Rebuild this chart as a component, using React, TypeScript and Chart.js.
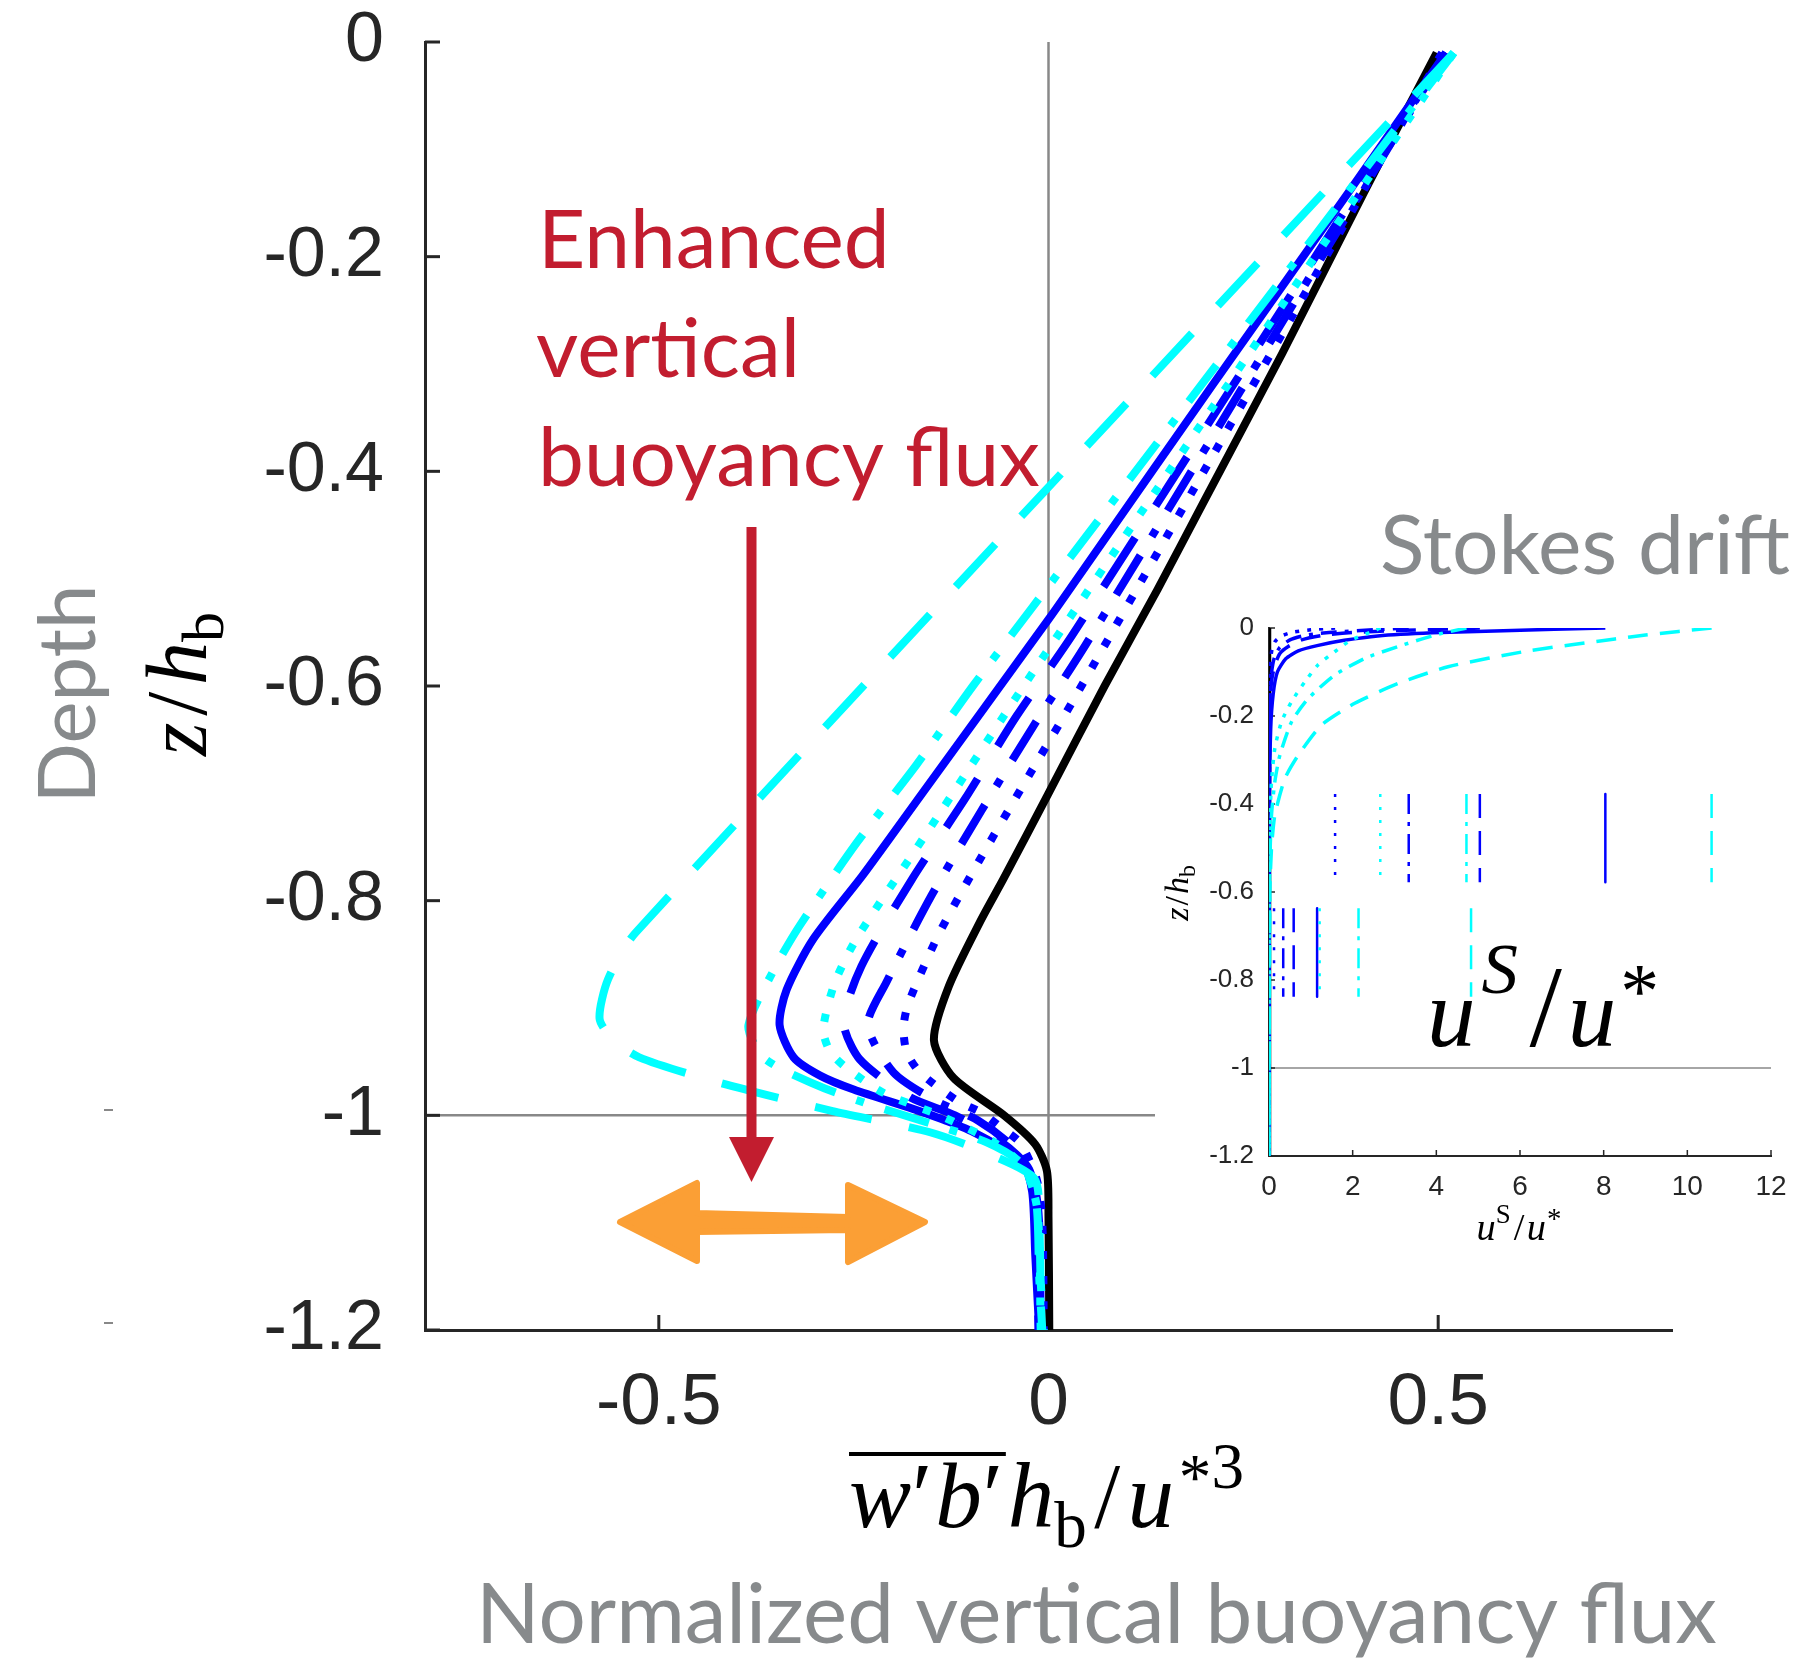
import { useEffect, useRef } from 'react';
import { Chart, registerables } from 'chart.js';

Chart.register(...registerables);

// ---------------- Main panel: normalized vertical buoyancy flux ----------------
const mainXTicks = [-0.5, 0, 0.5];
const mainYTicks = [0, -0.2, -0.4, -0.6, -0.8, -1, -1.2];

const blackDepth = [-0.01, -0.14, -0.29, -0.43, -0.51, -0.6, -0.7, -0.78, -0.82, -0.88, -0.93, -0.965, -1.0, -1.027, -1.052, -1.096, -1.2];
const blackFlux = [0.498, 0.405, 0.3, 0.198, 0.14, 0.072, 0.0, -0.058, -0.088, -0.128, -0.147, -0.122, -0.057, -0.017, -0.002, 0.0, 0.001];

const blueSolidDepth = [-0.01, -0.14, -0.32, -0.483, -0.538, -0.7, -0.776, -0.836, -0.883, -0.916, -0.946, -0.963, -0.976, -0.994, -1.003, -1.015, -1.043, -1.071, -1.13, -1.2];
const blueSolidFlux = [0.51, 0.385, 0.21, 0.053, 0.0, -0.162, -0.238, -0.302, -0.336, -0.345, -0.327, -0.293, -0.25, -0.174, -0.139, -0.098, -0.034, -0.021, -0.017, -0.012];

const blueDashedDepth = [-0.01, -0.551, -0.628, -0.705, -0.781, -0.861, -0.913, -0.948, -0.983, -1.0, -1.025, -1.05, -1.09, -1.2];
const blueDashedFlux = [0.51, 0.032, -0.041, -0.107, -0.176, -0.24, -0.263, -0.242, -0.178, -0.12, -0.06, -0.025, -0.015, -0.013];

const blueDashDotDepth = [-0.01, -0.56, -0.638, -0.716, -0.795, -0.876, -0.916, -0.96, -0.986, -1.005, -1.03, -1.06, -1.1, -1.2];
const blueDashDotFlux = [0.51, 0.049, -0.02, -0.086, -0.15, -0.208, -0.232, -0.199, -0.146, -0.09, -0.045, -0.02, -0.012, -0.01];

const blueDottedDepth = [-0.01, -0.613, -0.693, -0.773, -0.833, -0.896, -0.918, -0.941, -0.96, -0.986, -0.998, -1.012, -1.026, -1.06, -1.1, -1.2];
const blueDottedFlux = [0.505, 0.032, -0.033, -0.097, -0.142, -0.18, -0.186, -0.182, -0.165, -0.118, -0.085, -0.06, -0.036, -0.015, -0.008, -0.006];

const cyanDottedDepth = [-0.01, -0.585, -0.74, -0.835, -0.876, -0.92, -0.941, -0.956, -0.979, -1.0, -1.025, -1.05, -1.09, -1.2];
const cyanDottedFlux = [0.52, -0.018, -0.159, -0.246, -0.274, -0.289, -0.28, -0.259, -0.212, -0.14, -0.07, -0.03, -0.014, -0.01];

const cyanDashDotDepth = [-0.01, -0.526, -0.6, -0.673, -0.746, -0.823, -0.86, -0.916, -0.943, -0.956, -0.975, -0.99, -1.008, -1.025, -1.045, -1.08, -1.15, -1.2];
const cyanDashDotFlux = [0.52, -0.02, -0.097, -0.169, -0.246, -0.319, -0.349, -0.385, -0.37, -0.345, -0.287, -0.229, -0.15, -0.08, -0.035, -0.016, -0.012, -0.008];

const cyanDashedDepth = [-0.01, -0.83, -0.873, -0.91, -0.93, -0.946, -0.966, -0.985, -0.996, -1.016, -1.035, -1.059, -1.1, -1.155, -1.2];
const cyanDashedFlux = [0.52, -0.53, -0.565, -0.576, -0.558, -0.525, -0.44, -0.34, -0.277, -0.151, -0.08, -0.018, -0.012, -0.01, -0.006];

// ---------------- Inset: Stokes drift profiles ----------------
const insetXTicks = [0, 2, 4, 6, 8, 10, 12];
const insetYTicks = [0, -0.2, -0.4, -0.6, -0.8, -1, -1.2];

const stokesBlackDepth = [0, -1.2];
const stokesBlackU = [0, 0];

const stokesBlueDottedDepth = [0, -0.004, -0.01, -0.018, -0.03, -0.05, -0.09, -0.15, -1.2];
const stokesBlueDottedU = [1.58, 1.0, 0.55, 0.3, 0.15, 0.07, 0.02, 0.005, 0];

const stokesCyanDottedDepth = [0, -0.005, -0.027, -0.054, -0.084, -0.122, -0.167, -0.213, -0.273, -0.349, -0.45, -0.6, -1.2];
const stokesCyanDottedU = [2.66, 2.55, 1.97, 1.57, 1.17, 0.86, 0.54, 0.3, 0.14, 0.06, 0.02, 0.005, 0];

const stokesBlueDashDotDepth = [0, -0.004, -0.009, -0.016, -0.027, -0.045, -0.07, -0.11, -0.2, -1.2];
const stokesBlueDashDotU = [3.34, 2.5, 1.6, 0.9, 0.5, 0.25, 0.12, 0.05, 0.01, 0];

const stokesCyanDashDotDepth = [0, -0.016, -0.042, -0.069, -0.107, -0.16, -0.213, -0.289, -0.349, -0.425, -0.55, -1.2];
const stokesCyanDashDotU = [4.72, 3.97, 3.09, 2.29, 1.57, 0.94, 0.54, 0.26, 0.14, 0.06, 0.015, 0];

const stokesBlueDashedDepth = [0, -0.002, -0.005, -0.01, -0.017, -0.027, -0.042, -0.058, -0.084, -0.122, -0.2, -1.2];
const stokesBlueDashedU = [5.04, 4.44, 3.25, 2.05, 1.26, 0.78, 0.46, 0.26, 0.14, 0.06, 0.015, 0];

const stokesBlueSolidDepth = [0, -0.006, -0.011, -0.018, -0.028, -0.04, -0.052, -0.07, -0.1, -0.15, -0.23, -0.4, -1.2];
const stokesBlueSolidU = [8.04, 5.6, 3.9, 2.6, 1.8, 1.15, 0.7, 0.4, 0.2, 0.1, 0.04, 0.01, 0];

const stokesCyanDashedDepth = [0, -0.016, -0.025, -0.052, -0.088, -0.126, -0.171, -0.22, -0.289, -0.342, -0.425, -0.5, -0.6, -1.2];
const stokesCyanDashedU = [10.58, 9.0, 8.27, 6.2, 4.28, 3.09, 2.05, 1.26, 0.7, 0.38, 0.14, 0.06, 0.02, 0];

// vertical marker segments (order: blue dotted, cyan dotted, blue dash-dot, cyan dash-dot, blue dashed, blue solid, cyan dashed)
const markerUpperU = [1.58, 2.66, 3.34, 4.72, 5.04, 8.04, 10.58];
const markerLowerU = [0.12, 1.21, 0.34, 2.14, 0.59, 1.15, 4.83];
const markerUpperDepth = [-0.377, -0.578];
const markerLowerDepth = [-0.637, -0.838];

// ---------------- styles ----------------
const BLUE = '#0000ff';
const CYAN = '#00ffff';
const BLACK = '#000000';
const AXIS = '#262626';
const GRAYLINE = '#888888';
const GRAYTEXT = '#878a8c';
const RED = '#c21d2f';
const ORANGE = '#fb9f35';

const SANS = '"Liberation Sans", Arial, sans-serif';
const AVENIR = 'Lato, "Noto Sans", sans-serif';
const MATH = '"Liberation Serif", "Times New Roman", serif';

const MAIN_DASH = { solid: [] as number[], dashed: [58, 38], dashdot: [46, 22, 8, 22], dotted: [8, 17] };
const INSET_DASH = { solid: [] as number[], dashed: [20, 12], dashdot: [16, 8, 4, 8], dotted: [4, 8] };
const MARK_DASH = { solid: [] as number[], dashed: [24, 13], dashdot: [20, 8, 4, 8], dotted: [3, 10] };
const markerStyles: Array<[string, keyof typeof MAIN_DASH]> = [
  [BLUE, 'dotted'], [CYAN, 'dotted'], [BLUE, 'dashdot'], [CYAN, 'dashdot'], [BLUE, 'dashed'], [BLUE, 'solid'], [CYAN, 'dashed'],
];

type Run = { t: string; it?: boolean; sc?: number; dy?: number; dx?: number };

function runsWidth(ctx: CanvasRenderingContext2D, runs: Run[], size: number) {
  let w = 0;
  for (const r of runs) {
    ctx.font = `${r.it ? 'italic ' : ''}${size * (r.sc ?? 1)}px ${MATH}`;
    w += (r.dx ?? 0) * size + ctx.measureText(r.t).width;
  }
  return w;
}

function drawRuns(ctx: CanvasRenderingContext2D, runs: Run[], x: number, y: number, size: number) {
  const xs: number[] = [];
  let cx = x;
  ctx.textAlign = 'left';
  ctx.textBaseline = 'alphabetic';
  for (const r of runs) {
    ctx.font = `${r.it ? 'italic ' : ''}${size * (r.sc ?? 1)}px ${MATH}`;
    cx += (r.dx ?? 0) * size;
    xs.push(cx);
    ctx.fillText(r.t, cx, y + (r.dy ?? 0) * size);
    cx += ctx.measureText(r.t).width;
  }
  xs.push(cx);
  return xs;
}

function fitSize(ctx: CanvasRenderingContext2D, text: string, family: string, target: number) {
  ctx.font = `100px ${family}`;
  return (100 * target) / ctx.measureText(text).width;
}

function line(ctx: CanvasRenderingContext2D, x1: number, y1: number, x2: number, y2: number) {
  ctx.beginPath();
  ctx.moveTo(x1, y1);
  ctx.lineTo(x2, y2);
  ctx.stroke();
}

function series(z: number[], x: number[], color: string, dash: number[], width: number, tension: number) {
  return {
    data: z.map((zz, i) => ({ x: x[i], y: zz })),
    showLine: true,
    borderColor: color,
    backgroundColor: color,
    borderWidth: width,
    borderDash: dash,
    borderCapStyle: 'butt' as const,
    borderJoinStyle: 'round' as const,
    pointRadius: 0,
    pointHoverRadius: 0,
    tension,
    fill: false,
  };
}

const noPadX = (h: number) => (s: any) => {
  s.height = h;
  s.paddingLeft = 0;
  s.paddingRight = 0;
};
const noPadY = (w: number) => (s: any) => {
  s.width = w;
  s.paddingTop = 0;
  s.paddingBottom = 0;
};

const mainDecor = {
  id: 'mainDecor',
  beforeDatasetsDraw(chart: any) {
    const { ctx, chartArea: a, scales } = chart;
    const sx = scales.x;
    const sy = scales.y;
    ctx.save();
    ctx.strokeStyle = GRAYLINE;
    ctx.lineWidth = 2.5;
    const x0 = sx.getPixelForValue(0);
    line(ctx, x0, a.top, x0, a.bottom);
    const ym1 = sy.getPixelForValue(-1);
    line(ctx, a.left, ym1, a.right, ym1);
    ctx.strokeStyle = AXIS;
    ctx.lineWidth = 3;
    mainYTicks.forEach((v) => {
      const py = sy.getPixelForValue(v);
      line(ctx, a.left, py, a.left + 15, py);
    });
    mainXTicks.forEach((v) => {
      const px = sx.getPixelForValue(v);
      line(ctx, px, a.bottom, px, a.bottom - 15);
    });
    ctx.restore();
  },
  afterDraw(chart: any) {
    const { ctx } = chart;
    ctx.save();
    // red annotation text
    ctx.fillStyle = RED;
    ctx.textAlign = 'left';
    ctx.textBaseline = 'alphabetic';
    const rs = fitSize(ctx, 'buoyancy flux', AVENIR, 502);
    ctx.font = `${rs}px ${AVENIR}`;
    ctx.fillText('Enhanced', 538, 268);
    ctx.fillText('vertical', 536, 377);
    ctx.fillText('buoyancy flux', 538, 486);
    // red arrow
    ctx.strokeStyle = RED;
    ctx.lineWidth = 10;
    line(ctx, 751.5, 527, 751.5, 1145);
    ctx.beginPath();
    ctx.moveTo(729, 1137);
    ctx.lineTo(774, 1137);
    ctx.lineTo(751.5, 1182);
    ctx.closePath();
    ctx.fill();
    // orange double arrow
    ctx.fillStyle = ORANGE;
    ctx.strokeStyle = ORANGE;
    ctx.lineWidth = 6;
    ctx.lineJoin = 'round';
    ctx.beginPath();
    ctx.moveTo(620, 1222);
    ctx.lineTo(697, 1183);
    ctx.lineTo(697, 1213);
    ctx.lineTo(848, 1217);
    ctx.lineTo(848, 1185);
    ctx.lineTo(925, 1222);
    ctx.lineTo(848, 1262);
    ctx.lineTo(848, 1230);
    ctx.lineTo(697, 1232);
    ctx.lineTo(697, 1261);
    ctx.closePath();
    ctx.fill();
    ctx.stroke();
    // gray labels
    ctx.fillStyle = GRAYTEXT;
    const ss = fitSize(ctx, 'Stokes drift', AVENIR, 410);
    ctx.font = `${ss}px ${AVENIR}`;
    ctx.fillText('Stokes drift', 1380, 574);
    const ns = fitSize(ctx, 'Normalized vertical buoyancy flux', AVENIR, 1241);
    ctx.font = `${ns}px ${AVENIR}`;
    ctx.fillText('Normalized vertical buoyancy flux', 476, 1643);
    ctx.save();
    ctx.translate(95, 694);
    ctx.rotate(-Math.PI / 2);
    const ds = fitSize(ctx, 'Depth', AVENIR, 219);
    ctx.font = `${ds}px ${AVENIR}`;
    ctx.textAlign = 'center';
    ctx.fillText('Depth', 0, 0);
    ctx.restore();
    // small gray marks at far left
    ctx.strokeStyle = GRAYLINE;
    ctx.lineWidth = 2;
    line(ctx, 104, 1110, 113, 1110);
    line(ctx, 104, 1323, 113, 1323);
    // y-axis math label z/h_b
    ctx.fillStyle = '#000';
    const yRuns: Run[] = [
      { t: 'z', it: true },
      { t: '/', dx: 0.08 },
      { t: 'h', it: true, dx: 0.08 },
      { t: 'b', sc: 0.7, dy: 0.2 },
    ];
    ctx.save();
    ctx.translate(206, 684);
    ctx.rotate(-Math.PI / 2);
    const yw = runsWidth(ctx, yRuns, 86);
    drawRuns(ctx, yRuns, -yw / 2, 0, 86);
    ctx.restore();
    // x-axis math label
    const xRuns: Run[] = [
      { t: 'w', it: true },
      { t: '′', dx: 0.01 },
      { t: 'b', it: true, dx: 0.03 },
      { t: '′', dx: 0.01 },
      { t: 'h', it: true, dx: 0.05 },
      { t: 'b', sc: 0.7, dy: 0.22 },
      { t: '/', dx: 0.08 },
      { t: 'u', it: true, dx: 0.08 },
      { t: '*', sc: 0.7, dy: -0.3, dx: 0.05 },
      { t: '3', sc: 0.7, dy: -0.42 },
    ];
    const xw = runsWidth(ctx, xRuns, 84);
    const xsize = 84 * (395 / xw);
    const xs = drawRuns(ctx, xRuns, 849, 1527, xsize);
    ctx.strokeStyle = '#000';
    ctx.lineWidth = 4;
    line(ctx, xs[0], 1454, xs[4] - 0.02 * xsize, 1454);
    ctx.restore();
  },
};

const insetDecor = {
  id: 'insetDecor',
  beforeDatasetsDraw(chart: any) {
    const { ctx, chartArea: a, scales } = chart;
    const sx = scales.x;
    const sy = scales.y;
    ctx.save();
    ctx.strokeStyle = GRAYLINE;
    ctx.lineWidth = 1.5;
    const ym1 = sy.getPixelForValue(-1);
    line(ctx, sx.getPixelForValue(0), ym1, sx.getPixelForValue(12), ym1);
    ctx.strokeStyle = AXIS;
    ctx.lineWidth = 1.5;
    insetYTicks.forEach((v) => {
      const py = sy.getPixelForValue(v);
      line(ctx, a.left, py, a.left + 6, py);
    });
    insetXTicks.forEach((v) => {
      const px = sx.getPixelForValue(v);
      line(ctx, px, a.bottom, px, a.bottom - 6);
    });
    ctx.restore();
  },
  afterDraw(chart: any) {
    const { ctx } = chart;
    ctx.save();
    ctx.fillStyle = '#000';
    // big u^S/u*
    const bigRuns: Run[] = [
      { t: 'u', it: true },
      { t: 'S', it: true, sc: 0.75, dy: -0.55, dx: 0.06 },
      { t: '/', dx: 0.12, sc: 1.2 },
      { t: 'u', it: true, dx: 0.06 },
      { t: '*', sc: 0.8, dy: -0.3, dx: 0.04 },
    ];
    const bw = runsWidth(ctx, bigRuns, 88);
    drawRuns(ctx, bigRuns, 272, 432, 88 * (232 / bw));
    // small x label
    const sRuns: Run[] = [
      { t: 'u', it: true },
      { t: 'S', sc: 0.7, dy: -0.45 },
      { t: '/', dx: 0.08 },
      { t: 'u', it: true, dx: 0.06 },
      { t: '*', sc: 0.75, dy: -0.3, dx: 0.03 },
    ];
    const sw = runsWidth(ctx, sRuns, 34);
    const ssz = 34 * (85 / sw);
    drawRuns(ctx, sRuns, 364 - 85 / 2, 626, ssz);
    // small y label
    const yRuns: Run[] = [
      { t: 'z', it: true },
      { t: '/', dx: 0.06 },
      { t: 'h', it: true, dx: 0.06 },
      { t: 'b', sc: 0.7, dy: 0.2 },
    ];
    ctx.save();
    ctx.translate(33, 279);
    ctx.rotate(-Math.PI / 2);
    const yw = runsWidth(ctx, yRuns, 34);
    drawRuns(ctx, yRuns, -yw / 2, 0, 34);
    ctx.restore();
    ctx.restore();
  },
};

export default function App() {
  const mainRef = useRef<HTMLCanvasElement>(null);
  const insetRef = useRef<HTMLCanvasElement>(null);

  useEffect(() => {
    if (!mainRef.current || !insetRef.current) return;
    Chart.defaults.font.family = SANS;

    const W = 8;
    const T = 0.25;
    const mainDatasets = [
      series(cyanDashedDepth, cyanDashedFlux, CYAN, MAIN_DASH.dashed, W, T),
      series(cyanDashDotDepth, cyanDashDotFlux, CYAN, MAIN_DASH.dashdot, W, T),
      series(cyanDottedDepth, cyanDottedFlux, CYAN, MAIN_DASH.dotted, W, T),
      series(blueDottedDepth, blueDottedFlux, BLUE, MAIN_DASH.dotted, W, T),
      series(blueDashDotDepth, blueDashDotFlux, BLUE, MAIN_DASH.dashdot, W, T),
      series(blueDashedDepth, blueDashedFlux, BLUE, MAIN_DASH.dashed, W, T),
      series(blueSolidDepth, blueSolidFlux, BLUE, MAIN_DASH.solid, W, T),
      series(blackDepth, blackFlux, BLACK, MAIN_DASH.solid, W, T),
    ];

    const main = new Chart(mainRef.current, {
      type: 'scatter',
      data: { datasets: mainDatasets as any },
      options: {
        responsive: false,
        animation: false,
        devicePixelRatio: 1,
        events: [],
        layout: { padding: { left: 0, top: 42, right: 127, bottom: 0 } },
        plugins: { legend: { display: false }, tooltip: { enabled: false } },
        scales: {
          x: {
            type: 'linear',
            min: -0.8,
            max: 0.8,
            grid: { display: false, drawTicks: false },
            border: { display: true, color: AXIS, width: 3 },
            ticks: {
              autoSkip: false,
              maxRotation: 0,
              padding: 30,
              color: AXIS,
              font: { family: SANS, size: 73 },
              callback: (v: any) => String(v),
            },
            afterBuildTicks: (s: any) => {
              s.ticks = mainXTicks.map((v) => ({ value: v }));
            },
            afterFit: noPadX(331),
          },
          y: {
            type: 'linear',
            min: -1.2,
            max: 0,
            grid: { display: false, drawTicks: false },
            border: { display: true, color: AXIS, width: 3 },
            ticks: {
              autoSkip: false,
              padding: 41,
              color: AXIS,
              font: { family: SANS, size: 70 },
              callback: (v: any) => String(v),
            },
            afterBuildTicks: (s: any) => {
              s.ticks = mainYTicks.map((v) => ({ value: v }));
            },
            afterFit: noPadY(425),
          },
        },
      },
      plugins: [mainDecor],
    });

    const IW = 3.5;
    const insetDatasets: any[] = [
      series(stokesCyanDashedDepth, stokesCyanDashedU, CYAN, INSET_DASH.dashed, IW, 0.2),
      series(stokesCyanDashDotDepth, stokesCyanDashDotU, CYAN, INSET_DASH.dashdot, IW, 0.2),
      series(stokesCyanDottedDepth, stokesCyanDottedU, CYAN, INSET_DASH.dotted, IW, 0.2),
      series(stokesBlueDottedDepth, stokesBlueDottedU, BLUE, INSET_DASH.dotted, IW, 0.2),
      series(stokesBlueDashDotDepth, stokesBlueDashDotU, BLUE, INSET_DASH.dashdot, IW, 0.2),
      series(stokesBlueDashedDepth, stokesBlueDashedU, BLUE, INSET_DASH.dashed, IW, 0.2),
      series(stokesBlueSolidDepth, stokesBlueSolidU, BLUE, INSET_DASH.solid, IW, 0.2),
      series(stokesBlackDepth, stokesBlackU, BLACK, INSET_DASH.solid, IW + 1, 0),
    ];
    markerUpperU.forEach((u, i) => {
      const [c, d] = markerStyles[i];
      insetDatasets.push(series(markerUpperDepth, [u, u], c, MARK_DASH[d], 2.5, 0));
    });
    markerLowerU.forEach((u, i) => {
      const [c, d] = markerStyles[i];
      insetDatasets.push(series(markerLowerDepth, [u, u], c, MARK_DASH[d], 2.5, 0));
    });

    const inset = new Chart(insetRef.current, {
      type: 'scatter',
      data: { datasets: insetDatasets },
      options: {
        responsive: false,
        animation: false,
        devicePixelRatio: 1,
        events: [],
        layout: { padding: { left: 0, top: 14, right: 28, bottom: 0 } },
        plugins: { legend: { display: false }, tooltip: { enabled: false } },
        scales: {
          x: {
            type: 'linear',
            min: 0,
            max: 12,
            grid: { display: false, drawTicks: false },
            border: { display: true, color: AXIS, width: 2 },
            ticks: {
              autoSkip: false,
              maxRotation: 0,
              padding: 14,
              color: AXIS,
              font: { family: SANS, size: 28 },
              callback: (v: any) => String(v),
            },
            afterBuildTicks: (s: any) => {
              s.ticks = insetXTicks.map((v) => ({ value: v }));
            },
            afterFit: noPadX(105),
          },
          y: {
            type: 'linear',
            min: -1.2,
            max: 0,
            grid: { display: false, drawTicks: false },
            border: { display: true, color: AXIS, width: 2 },
            ticks: {
              autoSkip: false,
              padding: 15,
              color: AXIS,
              font: { family: SANS, size: 26 },
              callback: (v: any) => String(v),
            },
            afterBuildTicks: (s: any) => {
              s.ticks = insetYTicks.map((v) => ({ value: v }));
            },
            afterFit: noPadY(114),
          },
        },
      },
      plugins: [insetDecor],
    });

    return () => {
      main.destroy();
      inset.destroy();
    };
  }, []);

  return (
    <div style={{ position: 'absolute', left: 0, top: 0, width: 1799, height: 1661, background: '#ffffff' }}>
      <canvas ref={mainRef} width={1799} height={1661} style={{ position: 'absolute', left: 0, top: 0 }} />
      <div style={{ position: 'absolute', left: 1155, top: 614, width: 644, height: 647, background: '#ffffff' }}>
        <canvas ref={insetRef} width={644} height={647} />
      </div>
    </div>
  );
}
